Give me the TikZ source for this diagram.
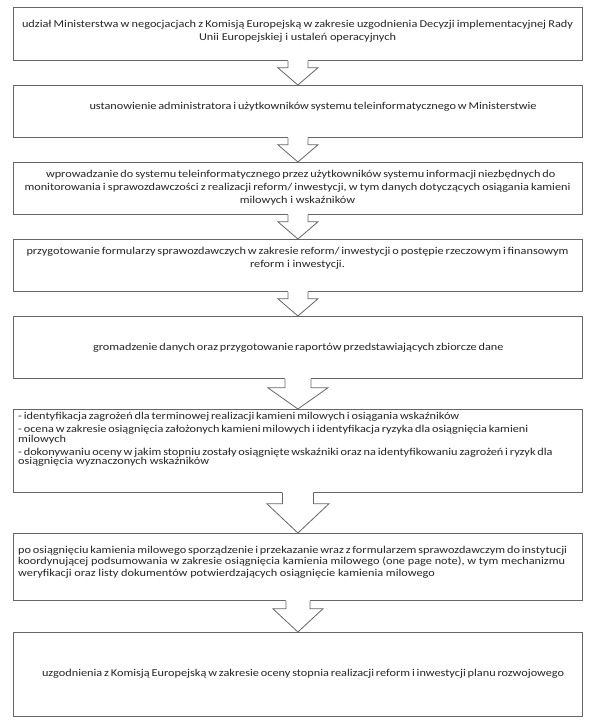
\documentclass[tikz,border=0pt]{standalone}
\usepackage{fontspec}
\setmainfont{Carlito}[FakeStretch=1.17]
\usetikzlibrary{calc,shadows}
\tikzset{
  box/.style={draw=black!60, line width=0.8pt, fill=white,
    drop shadow={shadow xshift=0.9pt,shadow yshift=-0.9pt,fill=black,opacity=0.3},
    minimum width=569pt, inner sep=0pt, anchor=north west},
  txt/.style={font=\fontsize{10.5}{12.8}\selectfont, text=black!85, align=center, inner sep=0pt},
  ltxt/.style={txt, align=left},
  arrline/.style={draw=black!60, line width=0.8pt, line join=miter},
}
\newcommand{\fitline}[2]{\makebox[#1pt][s]{#2}}
% #1 from node, #2 to node, #3 shaft half width, #4 head half width, #5 shaft length
\newcommand{\barrow}[5]{%
  \fill[white] ($(#1.south)+(-#3,-0.8)$) -- ($(#1.south)+(-#3,#5)$) -- ($(#1.south)+(-#4,#5)$)
     -- (#2.north) -- ($(#1.south)+(#4,#5)$) -- ($(#1.south)+(#3,#5)$) -- ($(#1.south)+(#3,-0.8)$) -- cycle;
  \draw[arrline] ($(#1.south)+(-#3,0)$) -- ($(#1.south)+(-#3,#5)$) -- ($(#1.south)+(-#4,#5)$)
     -- (#2.north) -- ($(#1.south)+(#4,#5)$) -- ($(#1.south)+(#3,#5)$) -- ($(#1.south)+(#3,0)$);
}
\begin{document}
\begin{tikzpicture}[x=1pt,y=-1pt]
\useasboundingbox[fill=white] (0,0) rectangle (592,727);
\node[box, minimum height=53pt] (b1) at (13,7) {};
\node[box, minimum height=52pt] (b2) at (13,85) {};
\node[box, minimum height=52pt] (b3) at (13,162) {};
\node[box, minimum height=52pt] (b4) at (13,239) {};
\node[box, minimum height=62pt] (b5) at (13,316) {};
\node[box, minimum height=83pt] (b6) at (13,409) {};
\node[box, minimum height=67pt] (b7) at (13,533) {};
\node[box, minimum height=84pt] (b8) at (13,632) {};

\node[txt] (t1) at (297.5,31) {\fitline{551}{udział Ministerstwa w negocjacjach z Komisją Europejską w zakresie uzgodnienia Decyzji implementacyjnej Rady}\\Unii Europejskiej i ustaleń operacyjnych};
\node[txt] (t2) at (297.5,107) {\fitline{416}{ustanowienie administratora i użytkowników systemu teleinformatycznego w Ministerstwie}};
\node[txt] (t3) at (297.5,187.5) {\fitline{503}{wprowadzanie do systemu teleinformatycznego przez użytkowników systemu informacji niezbędnych do}\\\fitline{546}{monitorowania i sprawozdawczości z realizacji reform/ inwestycji, w tym danych dotyczących osiągania kamieni}\\milowych i wskaźników};
\node[txt] (t4) at (297.5,258) {\fitline{542}{przygotowanie formularzy sprawozdawczych w zakresie reform/ inwestycji o postępie rzeczowym i finansowym}\\reform i inwestycji.};
\node[txt] (t5) at (297.5,348) {\fitline{409}{gromadzenie danych oraz przygotowanie raportów przedstawiających zbiorcze dane}};
\node[ltxt, font=\fontsize{10.5}{9.6}\selectfont, anchor=north west] (t6) at (18,412) {\fitline{385}{- identyfikacja zagrożeń dla terminowej realizacji kamieni milowych i osiągania wskaźników}\\[3.4pt]
\fitline{465}{- ocena w zakresie osiągnięcia założonych kamieni milowych i identyfikacja ryzyka dla osiągnięcia kamieni}\\milowych\\[3.4pt]
\fitline{502}{- dokonywaniu oceny w jakim stopniu zostały osiągnięte wskaźniki oraz na identyfikowaniu zagrożeń i ryzyk dla}\\osiągnięcia wyznaczonych wskaźników};
\node[ltxt, font=\fontsize{10.5}{11.5}\selectfont, anchor=west] (t7) at (18,562) {\fitline{547}{po osiągnięciu kamienia milowego sporządzenie i przekazanie wraz z formularzem sprawozdawczym do instytucji}\\koordynującej podsumowania w zakresie osiągnięcia kamienia milowego (one page note), w tym mechanizmu\\weryfikacji oraz listy dokumentów potwierdzających osiągnięcie kamienia milowego};
\node[txt] (t8) at (297.5,674) {\fitline{511}{uzgodnienia z Komisją Europejską w zakresie oceny stopnia realizacji reform i inwestycji planu rozwojowego}};

\barrow{b1}{b2}{10}{20}{7}
\barrow{b2}{b3}{10}{20}{7}
\barrow{b3}{b4}{10}{20}{7}
\barrow{b4}{b5}{10}{20}{7}
\barrow{b5}{b6}{13}{30}{9}
\barrow{b6}{b7}{15.5}{31}{11}
\barrow{b7}{b8}{12}{25}{8}
\end{tikzpicture}
\end{document}
